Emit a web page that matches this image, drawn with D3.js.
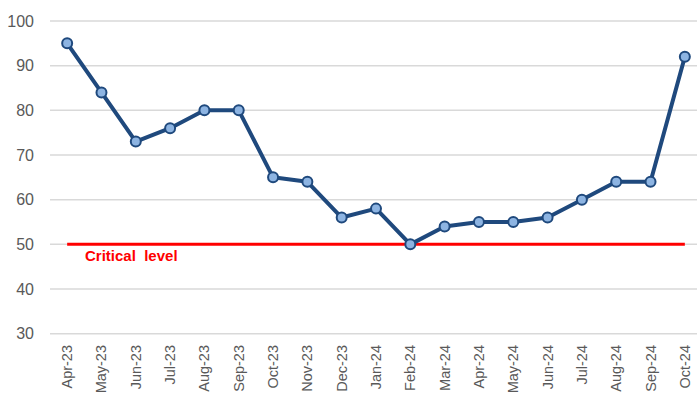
<!DOCTYPE html>
<html>
<head>
<meta charset="utf-8">
<script src="https://cdn.jsdelivr.net/npm/d3@7"></script>
<style>
  body { margin: 0; background: #fff; }
  svg { display: block; font-family: "Liberation Sans", Arial, sans-serif; }
</style>
</head>
<body>
<div id="viz"></div>
<script>
const months = ["Apr-23","May-23","Jun-23","Jul-23","Aug-23","Sep-23","Oct-23","Nov-23","Dec-23",
  "Jan-24","Feb-24","Mar-24","Apr-24","May-24","Jun-24","Jul-24","Aug-24","Sep-24","Oct-24"];
const values = [95, 84, 73, 76, 80, 80, 65, 64, 56, 58, 50, 54, 55, 55, 56, 60, 64, 64, 92];
const yTicks = [30, 40, 50, 60, 70, 80, 90, 100];
const criticalLevel = 50;
const criticalLabel = "Critical  level";

const width = 697, height = 394;
const margin = {top: 21, right: -5, bottom: 60, left: 50};

const svg = d3.select("#viz").append("svg")
  .attr("width", width)
  .attr("height", height);

const x = d3.scaleBand()
  .domain(months)
  .range([margin.left, width - margin.right]);

const y = d3.scaleLinear()
  .domain([30, 100])
  .range([height - margin.bottom - 0.3, margin.top]);

const cx = d => x(d) + x.bandwidth() / 2;

// gridlines
svg.append("g")
  .selectAll("line")
  .data(yTicks)
  .join("line")
    .attr("x1", margin.left)
    .attr("x2", width)
    .attr("y1", d => y(d))
    .attr("y2", d => y(d))
    .attr("stroke", "#d9d9d9")
    .attr("stroke-width", 1.5);

// y labels
svg.append("g")
  .selectAll("text")
  .data(yTicks)
  .join("text")
    .attr("x", 34)
    .attr("y", d => y(d))
    .attr("dy", "0.36em")
    .attr("text-anchor", "end")
    .attr("fill", "#595959")
    .attr("font-size", 16)
    .text(d => d);

// x labels
svg.append("g")
  .selectAll("text")
  .data(months)
  .join("text")
    .attr("transform", d => "translate(" + (cx(d) + 5) + "," + 345 + ") rotate(-90)")
    .attr("text-anchor", "end")
    .attr("fill", "#595959")
    .attr("font-size", 14.5)
    .text(d => d);

// critical line
svg.append("line")
  .attr("x1", cx(months[0]))
  .attr("x2", cx(months[months.length - 1]))
  .attr("y1", y(criticalLevel))
  .attr("y2", y(criticalLevel))
  .attr("stroke", "#ff0000")
  .attr("stroke-width", 3);

svg.append("text")
  .attr("x", 85)
  .attr("y", y(criticalLevel) + 17)
  .attr("fill", "#ff0000")
  .attr("font-size", 15)
  .attr("font-weight", "bold")
  .style("white-space", "pre")
  .text(criticalLabel);

// data line
const line = d3.line()
  .x((d, i) => cx(months[i]))
  .y(d => y(d));

svg.append("path")
  .datum(values)
  .attr("d", line)
  .attr("fill", "none")
  .attr("stroke", "#1f497d")
  .attr("stroke-width", 4)
  .attr("stroke-linejoin", "round");

svg.append("g")
  .selectAll("circle")
  .data(values)
  .join("circle")
    .attr("cx", (d, i) => cx(months[i]))
    .attr("cy", d => y(d))
    .attr("r", 5)
    .attr("fill", "#8db4e2")
    .attr("stroke", "#1f497d")
    .attr("stroke-width", 2);
</script>
</body>
</html>
